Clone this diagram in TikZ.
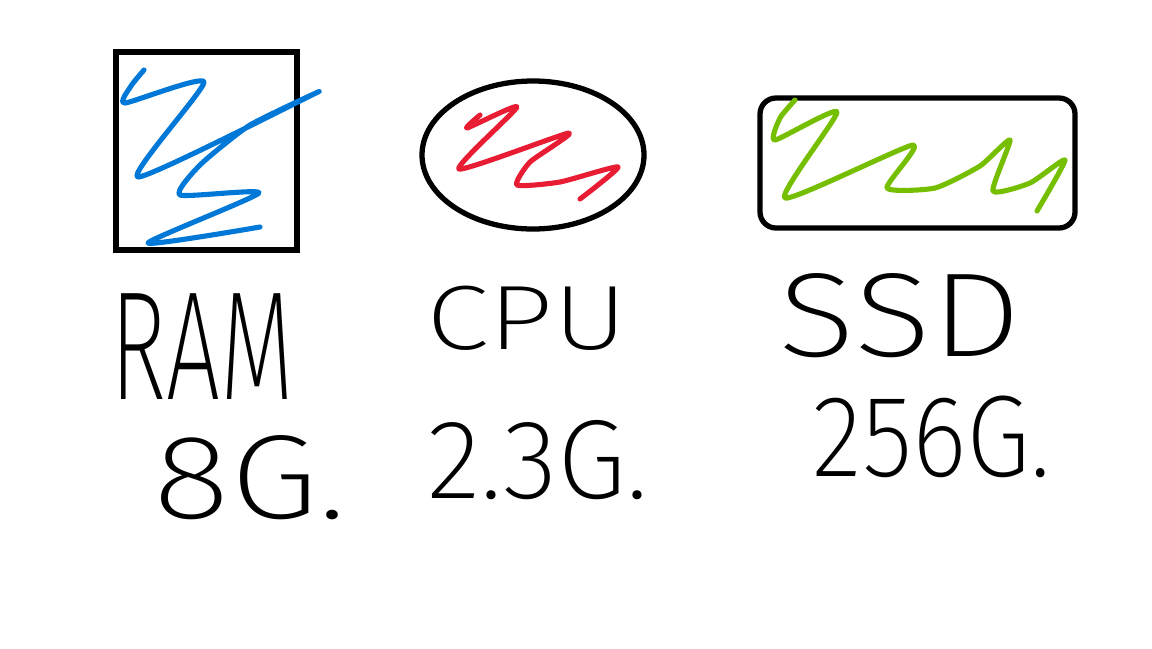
\documentclass[tikz,border=0pt]{standalone}
\usepackage{fontspec}
\newfontfamily\handfont{Fira Sans ExtraLight}
\definecolor{penblue}{RGB}{0,120,215}
\definecolor{penred}{RGB}{232,28,50}
\definecolor{pengreen}{RGB}{118,190,0}
\tikzset{
  frame/.style={line width=1.5pt, black},
  squiggle/.style={line width=1.45pt, line cap=round, line join=round},
  hand/.style={inner sep=0pt, transform shape, font=\handfont}
}
\begin{document}
\begin{tikzpicture}[x=0.01cm, y=-0.01cm]
        \useasboundingbox (0,0) rectangle (1152,648);
        % RAM
        \draw[frame] (116,52) rectangle (297,250);
        \draw[squiggle, penblue] plot[smooth, tension=0.35] coordinates {(144,70) (131,86) (125,103) (204,82)
              (138,177) (318,92) (250,125) (200,165) (180,195) (259,193) (148,243) (260,227)};
        % CPU
        \draw[frame] (533,155) ellipse (111 and 74);
        \draw[squiggle, penred] plot[smooth, tension=0.35] coordinates {(480,115) (467,128) (517,107)
              (459,169) (569,133) (530,162) (517,185) (560,182) (618,167) (580,199)};
        % SSD
        \draw[frame, rounded corners=0.16cm] (760,98) rectangle (1075,228);
        \draw[squiggle, pengreen] plot[smooth, tension=0.35] coordinates {(795,100) (780,118) (775,140)
              (837,112) (785,198) (913,145) (887,188) (935,188) (980,166) (1010,140) (993,191)
              (1030,183) (1065,160) (1037,211)};
        % labels
        \node[hand, xscale=0.62, font=\handfont\fontsize{44}{44}\selectfont] (ramname) at (202,347) {RAM};
        \node[hand, xscale=1.2, font=\handfont\fontsize{34}{34}\selectfont] (ramsize) at (250,478) {8G.};
        \node[hand, xscale=1.25, font=\handfont\fontsize{26}{26}\selectfont] (cpuname) at (527,318) {CPU};
        \node[hand, xscale=1.0, font=\handfont\fontsize{32}{32}\selectfont] (cpusize) at (538,460) {2.3G.};
        \node[hand, xscale=1.2, font=\handfont\fontsize{34}{34}\selectfont] (ssdname) at (900,316) {SSD};
        \node[hand, xscale=0.9, font=\handfont\fontsize{33}{33}\selectfont] (ssdsize) at (932,437) {256G.};
\end{tikzpicture}
\end{document}
